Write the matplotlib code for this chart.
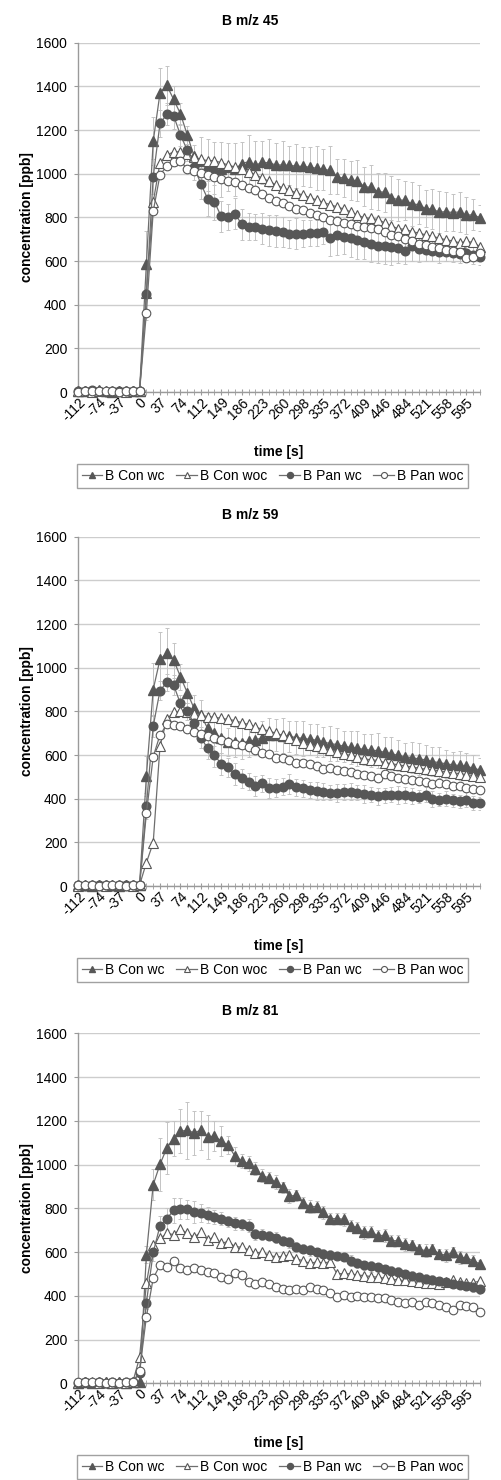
import numpy as np
import matplotlib
matplotlib.use('Agg')
import matplotlib.pyplot as plt
from matplotlib.transforms import ScaledTranslation

plt.rcParams['font.family'] = ['Liberation Sans', 'DejaVu Sans']

# time axis (categories, s)
time_s = [-112, -99, -87, -74, -62, -50, -37, -25, -12, 0, 12, 25, 37, 50, 62, 74, 87, 99,
          112, 124, 136, 149, 161, 174, 186, 198, 211, 223, 236, 248, 260, 273, 285, 298,
          310, 322, 335, 347, 360, 372, 384, 397, 409, 422, 434, 446, 459, 471, 484, 496,
          508, 521, 533, 546, 558, 570, 583, 595, 608, 620]

series_names = ['B Con wc', 'B Con woc', 'B Pan wc', 'B Pan woc']

# ---- B m/z 45 ----
con_wc_45 = [4, 6, 3, 8, 5, 2, 6, 3, 4, 5, 587, 1148, 1369, 1405, 1340, 1275, 1178, 1080, 1060, 1040,
             1025, 1020, 1030, 1020, 1046, 1055, 1038, 1052, 1050, 1040, 1040, 1038, 1035, 1033, 1030,
             1025, 1020, 1015, 985, 980, 970, 968, 940, 938, 918, 915, 890, 880, 878, 862, 858, 840,
             838, 824, 826, 822, 825, 810, 812, 798]
con_woc_45 = [3, 5, 2, 6, 4, 3, 5, 2, 3, 4, 452, 870, 1050, 1085, 1100, 1100, 1090, 1075, 1065, 1060,
              1060, 1050, 1040, 1030, 1020, 1010, 995, 980, 965, 950, 935, 925, 912, 902, 890, 880,
              868, 858, 848, 838, 825, 810, 798, 795, 790, 775, 760, 748, 745, 735, 728, 720, 713,
              705, 697, 692, 683, 690, 685, 666]
pan_wc_45 = [5, 3, 7, 4, 2, 6, 3, 5, 4, 6, 450, 985, 1230, 1272, 1265, 1178, 1108, 1031, 954, 885,
             870, 804, 801, 817, 768, 758, 755, 748, 740, 737, 733, 725, 725, 726, 728, 730, 733, 704,
             717, 710, 705, 698, 687, 680, 671, 668, 662, 660, 645, 671, 656, 650, 648, 642, 640, 636,
             633, 635, 628, 618]
pan_woc_45 = [2, 4, 6, 3, 5, 4, 2, 6, 3, 5, 362, 827, 995, 1035, 1055, 1060, 1020, 1012, 1005, 995,
              985, 975, 968, 960, 948, 935, 925, 905, 890, 875, 865, 850, 840, 832, 820, 812, 800,
              790, 785, 775, 770, 760, 757, 752, 748, 735, 720, 715, 700, 690, 680, 675, 665, 660,
              650, 645, 642, 615, 618, 635]
err_con_wc_45 = [10, 8, 12, 9, 11, 8, 10, 9, 12, 15, 150, 110, 115, 90, 60, 50, 40, 50, 110, 120,
                 120, 125, 110, 120, 100, 120, 110, 100, 110, 100, 110, 90, 100, 90, 90, 100, 95,
                 110, 80, 85, 90, 95, 90, 100, 85, 90, 100, 95, 90, 100, 90, 85, 90, 95, 90, 85,
                 90, 85, 70, 60]
err_pan_wc_45 = [8, 10, 7, 9, 11, 8, 10, 7, 9, 12, 120, 80, 60, 50, 60, 50, 50, 60, 70, 80, 80, 70,
                 60, 70, 70, 60, 60, 70, 70, 75, 70, 65, 70, 60, 60, 60, 55, 80, 90, 80, 85, 90, 80,
                 85, 80, 80, 80, 70, 60, 70, 60, 50, 50, 50, 40, 40, 40, 40, 40, 35]

# ---- B m/z 59 ----
con_wc_59 = [3, 5, 2, 4, 6, 3, 2, 5, 4, 6, 504, 900, 1038, 1066, 1035, 959, 886, 814, 783, 722,
             700, 678, 661, 660, 655, 662, 668, 680, 690, 692, 688, 685, 680, 676, 672, 668, 660,
             652, 648, 640, 635, 630, 626, 622, 620, 612, 606, 598, 592, 588, 582, 578, 570, 565,
             560, 555, 552, 548, 540, 531]
con_woc_59 = [2, 4, 3, 5, 2, 4, 3, 6, 2, 4, 107, 198, 640, 765, 795, 800, 795, 790, 785, 775,
              773, 768, 763, 758, 748, 740, 728, 718, 710, 700, 690, 680, 670, 655, 648, 640, 632,
              625, 615, 605, 598, 590, 582, 578, 575, 565, 560, 555, 550, 545, 540, 535, 532, 528,
              522, 518, 515, 510, 506, 500]
pan_wc_59 = [4, 2, 5, 3, 6, 2, 4, 3, 5, 5, 366, 732, 895, 933, 920, 836, 800, 745, 680, 630,
             600, 558, 543, 512, 493, 478, 458, 470, 450, 448, 455, 468, 452, 447, 440, 436, 432,
             428, 425, 430, 432, 428, 422, 418, 410, 415, 418, 416, 417, 412, 408, 418, 398, 395,
             400, 392, 388, 395, 380, 378]
pan_woc_59 = [3, 5, 4, 2, 5, 3, 6, 2, 4, 3, 333, 592, 692, 740, 738, 735, 718, 705, 695, 685,
              680, 670, 660, 650, 645, 638, 623, 610, 605, 585, 585, 577, 565, 562, 560, 548, 535,
              540, 530, 525, 520, 515, 510, 505, 495, 515, 505, 495, 492, 485, 480, 475, 465, 470,
              465, 460, 456, 450, 445, 440]
err_con_wc_59 = [6, 8, 5, 7, 9, 6, 8, 5, 7, 10, 90, 120, 125, 115, 80, 60, 50, 60, 70, 70, 60, 70,
                 65, 70, 75, 70, 70, 75, 80, 75, 80, 70, 75, 80, 70, 75, 70, 80, 75, 70, 75, 80,
                 70, 75, 80, 70, 75, 70, 65, 70, 75, 70, 65, 70, 65, 60, 65, 60, 60, 55]
err_pan_wc_59 = [5, 7, 6, 5, 8, 6, 5, 7, 6, 8, 60, 50, 45, 40, 45, 40, 40, 45, 50, 50, 55, 50, 45,
                 50, 45, 40, 45, 40, 45, 40, 40, 45, 40, 40, 35, 40, 40, 35, 40, 35, 40, 35, 40,
                 35, 40, 35, 35, 40, 35, 35, 30, 35, 35, 30, 35, 30, 30, 35, 30, 30]

# ---- B m/z 81 ----
con_wc_81 = [3, 6, 2, 5, 4, 3, 5, 2, 6, 8, 588, 908, 1001, 1076, 1119, 1152, 1157, 1145, 1157, 1127,
             1130, 1107, 1089, 1039, 1016, 1005, 981, 948, 940, 920, 897, 856, 859, 826, 808, 808,
             781, 753, 753, 750, 720, 712, 690, 693, 674, 677, 652, 652, 636, 632, 614, 606, 614,
             591, 586, 598, 576, 573, 561, 545]
con_woc_81 = [2, 4, 5, 3, 6, 2, 4, 3, 5, 118, 457, 630, 662, 685, 680, 705, 686, 668, 690, 655,
              670, 640, 648, 625, 622, 610, 595, 600, 585, 578, 580, 585, 570, 560, 548, 555, 550,
              555, 500, 502, 500, 495, 492, 488, 485, 480, 476, 472, 470, 466, 462, 460, 458, 456,
              462, 470, 462, 458, 460, 468]
pan_wc_81 = [3, 5, 2, 4, 3, 6, 2, 4, 5, 48, 368, 598, 720, 753, 790, 799, 795, 785, 778, 770,
             760, 752, 740, 732, 727, 720, 682, 680, 675, 665, 652, 644, 625, 616, 608, 600, 592,
             586, 582, 577, 560, 548, 540, 535, 530, 523, 515, 508, 500, 492, 486, 478, 472, 468,
             462, 456, 450, 445, 438, 430]
pan_woc_81 = [5, 8, 4, 6, 3, 7, 2, 5, 4, 55, 304, 480, 540, 532, 560, 525, 517, 525, 517, 509,
              502, 487, 479, 502, 495, 464, 456, 462, 455, 441, 433, 426, 430, 426, 441, 433, 425,
              411, 396, 403, 396, 398, 396, 396, 388, 390, 380, 373, 365, 372, 358, 373, 365, 358,
              350, 335, 358, 352, 350, 327]
err_con_wc_81 = [5, 6, 4, 7, 5, 6, 4, 5, 6, 8, 40, 70, 120, 120, 80, 100, 130, 100, 90, 100, 70, 70,
                 40, 40, 30, 35, 30, 30, 25, 30, 25, 30, 25, 25, 30, 25, 30, 25, 25, 30, 25, 25, 30,
                 25, 25, 30, 25, 25, 30, 25, 25, 30, 25, 25, 30, 25, 30, 25, 25, 20]
err_pan_wc_81 = [4, 5, 3, 6, 4, 5, 3, 4, 5, 10, 30, 40, 45, 50, 55, 50, 45, 50, 40, 35, 30, 30, 25,
                 30, 25, 30, 25, 25, 20, 25, 20, 25, 20, 20, 25, 20, 20, 25, 20, 20, 25, 20, 20, 25,
                 20, 20, 20, 25, 20, 20, 20, 20, 25, 20, 20, 20, 20, 20, 20, 20]

W, H = 501, 1480
fig = plt.figure(figsize=(W / 100, H / 100), dpi=100)

dark = '#575757'
line_c = '#6e6e6e'
err_c = '#c4c4c4'
grid_c = '#cdcdcd'
axis_c = '#9a9a9a'


def draw_panel(top, bottom, title, con_wc, con_woc, pan_wc, pan_woc, e_con, e_pan):
    left, right = 78.3, 480
    ax = fig.add_axes([left / W, 1 - bottom / H, (right - left) / W, (bottom - top) / H])
    x = np.arange(len(time_s))

    ax.errorbar(x, con_wc, yerr=e_con, fmt='none', ecolor=err_c, elinewidth=0.7,
                capsize=1.5, capthick=0.7, zorder=1)
    ax.errorbar(x, pan_wc, yerr=e_pan, fmt='none', ecolor=err_c, elinewidth=0.7,
                capsize=1.5, capthick=0.7, zorder=1)

    ax.plot(x, con_wc, color=line_c, lw=0.9, marker='^', ms=6.8, mfc=dark, mec=dark,
            label=series_names[0], clip_on=False, zorder=3)
    ax.plot(x, con_woc, color=line_c, lw=0.9, marker='^', ms=6.8, mfc='white', mec=dark,
            mew=0.8, label=series_names[1], clip_on=False, zorder=4)
    ax.plot(x, pan_wc, color=line_c, lw=0.9, marker='o', ms=6.2, mfc=dark, mec=dark,
            label=series_names[2], clip_on=False, zorder=5)
    ax.plot(x, pan_woc, color=line_c, lw=0.9, marker='o', ms=6.2, mfc='white', mec=dark,
            mew=0.8, label=series_names[3], clip_on=False, zorder=6)

    ax.set_xlim(0, len(time_s) - 1)
    ax.set_ylim(0, 1600)
    ax.set_yticks(range(0, 1601, 200))
    ax.grid(axis='y', color=grid_c, lw=1)
    ax.set_axisbelow(True)
    for s in ['top', 'right']:
        ax.spines[s].set_visible(False)
    for s in ['left', 'bottom']:
        ax.spines[s].set_color(axis_c)
        ax.spines[s].set_linewidth(1)

    ax.set_xticks(x[::3])
    ax.set_xticklabels([str(t) for t in time_s[::3]], rotation=45, ha='right', va='center',
                       rotation_mode='anchor')
    ax.set_xticks(x, minor=True)
    ax.tick_params(axis='x', which='both', direction='inout', length=4, color=axis_c,
                   labelsize=10, pad=4)
    ax.tick_params(axis='y', direction='out', length=3, color=axis_c, labelsize=10, pad=5)
    off = ScaledTranslation(5 / 100, 0, fig.dpi_scale_trans)
    for lab in ax.get_xticklabels():
        lab.set_transform(lab.get_transform() + off)

    fig.text(250.5 / W, 1 - (top - 22) / H, title, ha='center', va='center',
             fontsize=10, fontweight='bold')
    fig.text(26.7 / W, 1 - (top + bottom) / 2 / H, 'concentration [ppb]', rotation=90,
             ha='center', va='center', fontsize=10, fontweight='bold')
    fig.text(279 / W, 1 - (bottom + 60) / H, 'time [s]', ha='center', va='center',
             fontsize=10, fontweight='bold')

    leg = ax.legend(loc='center', bbox_to_anchor=(272.5 / W, 1 - (bottom + 84) / H),
                    bbox_transform=fig.transFigure, ncol=4, fontsize=10, frameon=True,
                    fancybox=False, edgecolor='#8a8a8a', handlelength=1.5, handletextpad=0.2,
                    columnspacing=0.85, borderpad=0.35, markerscale=0.7)
    leg.get_frame().set_linewidth(1)
    return ax


draw_panel(42.7, 392, 'B m/z 45', con_wc_45, con_woc_45, pan_wc_45, pan_woc_45,
           err_con_wc_45, err_pan_wc_45)
draw_panel(536.7, 886, 'B m/z 59', con_wc_59, con_woc_59, pan_wc_59, pan_woc_59,
           err_con_wc_59, err_pan_wc_59)
draw_panel(1033.3, 1383.3, 'B m/z 81', con_wc_81, con_woc_81, pan_wc_81, pan_woc_81,
           err_con_wc_81, err_pan_wc_81)

fig.savefig('out.png', dpi=100, facecolor='white')
